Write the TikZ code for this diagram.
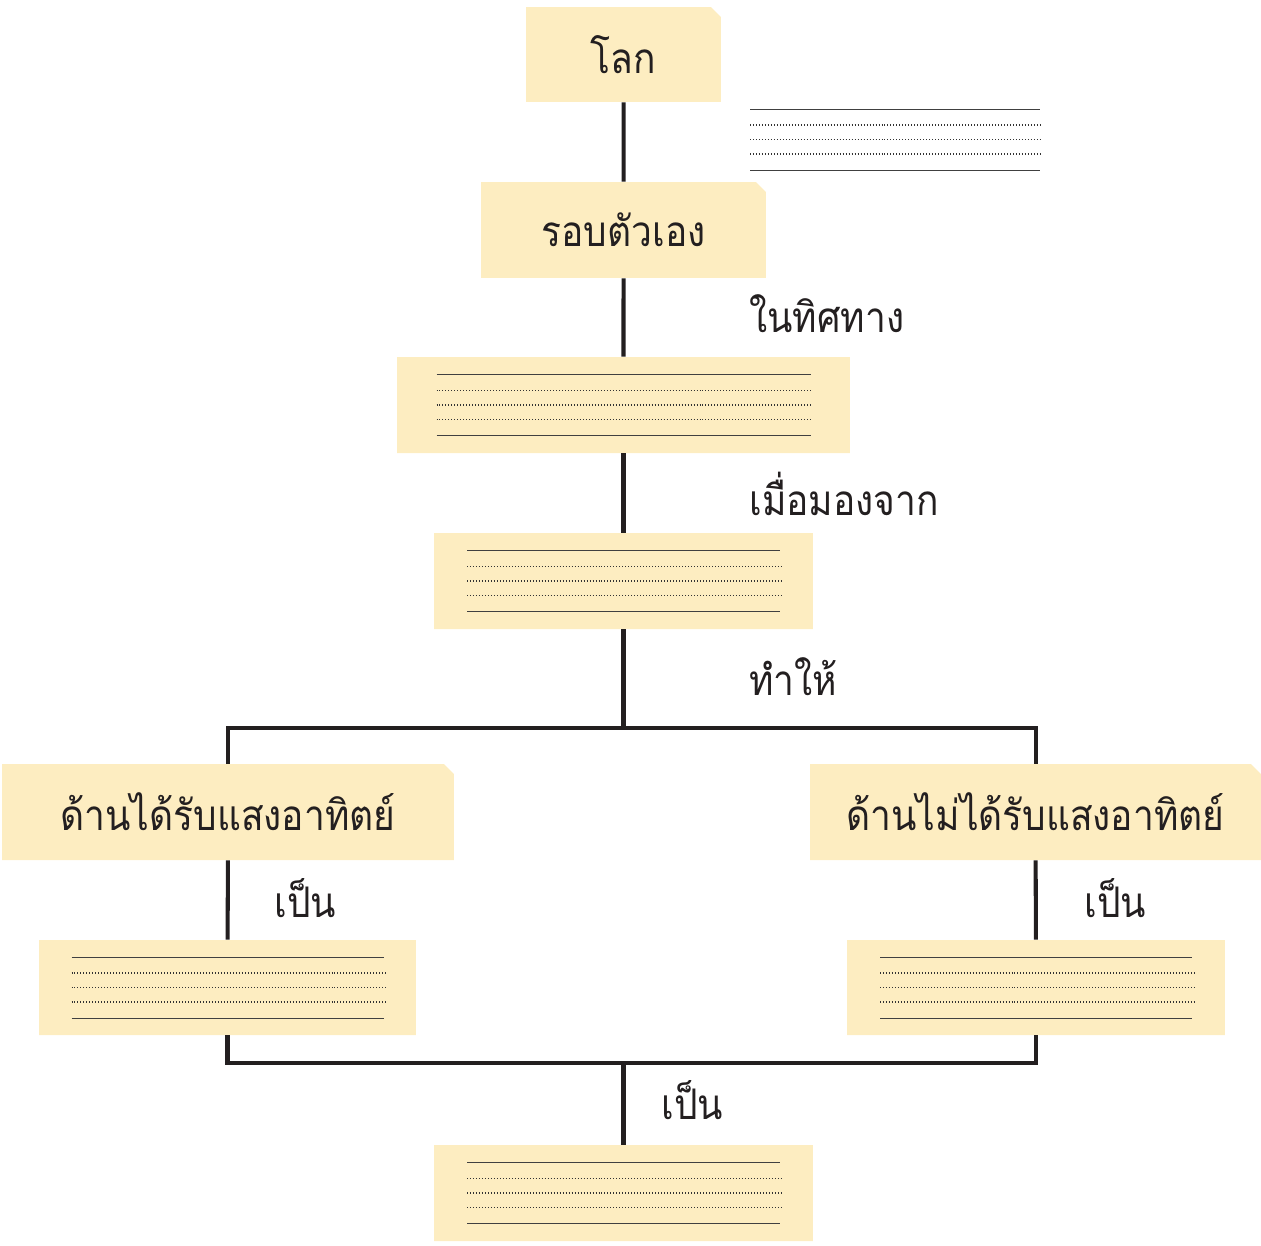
\documentclass[tikz,border=0pt]{standalone}
\usepackage{fontspec}
\setmainfont[Script=Thai, FakeStretch=0.88]{Loma}
\usetikzlibrary{calc}
\usetikzlibrary{shapes.misc}
\definecolor{cardfill}{HTML}{FDEDC1}
\definecolor{ink}{HTML}{231F20}
\tikzstyle{card} = [chamfered rectangle,
chamfered rectangle corners=north east,
chamfered rectangle xsep=0.1cm,
chamfered rectangle ysep=0.1cm,
minimum height=1.92cm,
inner sep=0pt,
fill=cardfill,
text=ink,
font=\fontsize{24}{28}\selectfont]
\tikzstyle{link} = [line width=2.3pt, draw=ink]
\tikzstyle{word} = [anchor=west, inner sep=0pt, text=ink, font=\fontsize{24}{28}\selectfont]
\tikzstyle{rule} = [line width=0.55pt, draw=black!75]
\tikzstyle{dotrule} = [line width=0.7pt, draw=black!80, dash pattern=on 0.567pt off 1.134pt]
% five writing lines across a card: solid, three dotted, solid
\newcommand{\writelines}[2]{%
  \draw [rule] ($(#1)+(-#2,-30.5)$) -- ($(#1)+(#2,-30.5)$);
  \foreach \dy in {-14.5,0,14.5}
    \draw [dotrule] ($(#1)+(-#2,\dy)$) -- ($(#1)+(#2+2,\dy)$);
  \draw [rule] ($(#1)+(-#2,30.5)$) -- ($(#1)+(#2,30.5)$);
}

\begin{document}
\begin{tikzpicture}[x=0.02cm, y=-0.02cm]
    \useasboundingbox (0,0) rectangle (1261,1245);

    \node (world) [card, minimum width=3.9cm, minimum height=1.9cm] at (623.5,54.5) {\raisebox{-2pt}{โลก}};
    \node (spin) [card, minimum width=5.7cm] at (623.5,230) {\raisebox{-2pt}{รอบตัวเอง}};
    \node (way) [card, minimum width=9.06cm] at (623.5,405) {};
    \node (view) [card, minimum width=7.58cm] at (623.5,581) {};
    \node (lit) [card, minimum width=9.04cm] at (228,812) {ด้านได้รับแสงอาทิตย์};
    \node (dark) [card, minimum width=9.02cm] at (1035.5,812) {ด้านไม่ได้รับแสงอาทิตย์};
    \node (litres) [card, minimum width=7.54cm, minimum height=1.9cm] at (227.5,987.5) {};
    \node (darkres) [card, minimum width=7.56cm, minimum height=1.9cm] at (1036,987.5) {};
    \node (result) [card, minimum width=7.58cm] at (623.5,1193) {};

    \coordinate (note) at (895,139.5);
    \coordinate (split) at (623.5,728);
    \coordinate (join) at (623.5,1063);

    \writelines{note}{145}
    \writelines{way}{187}
    \writelines{view}{156.5}
    \writelines{litres}{156}
    \writelines{darkres}{156}
    \writelines{result}{156.5}

    \node (l1) [word] at (749,314) {ในทิศทาง};
    \node (l2) [word] at (749,494) {เมื่อมองจาก};
    \node (l3) [word] at (749,677) {ทำให้};
    \node (l4) [word] at (274,898) {เป็น};
    \node (l5) [word] at (1084,898) {เป็น};
    \node (l6) [word] at (661,1100) {เป็น};

    \draw [link] (world) -- (spin);
    \draw [link] (spin) -- (way);
    \draw [link] (way) -- (view);
    \draw [link] (view) -- (split);
    \draw [link] (split) -| (lit);
    \draw [link] (split) -| (dark);
    \draw [link] (lit) -- (litres);
    \draw [link] (dark) -- (darkres);
    \draw [link] (litres) |- (join);
    \draw [link] (darkres) |- (join);
    \draw [link] (join) -- (result);
\end{tikzpicture}
\end{document}
